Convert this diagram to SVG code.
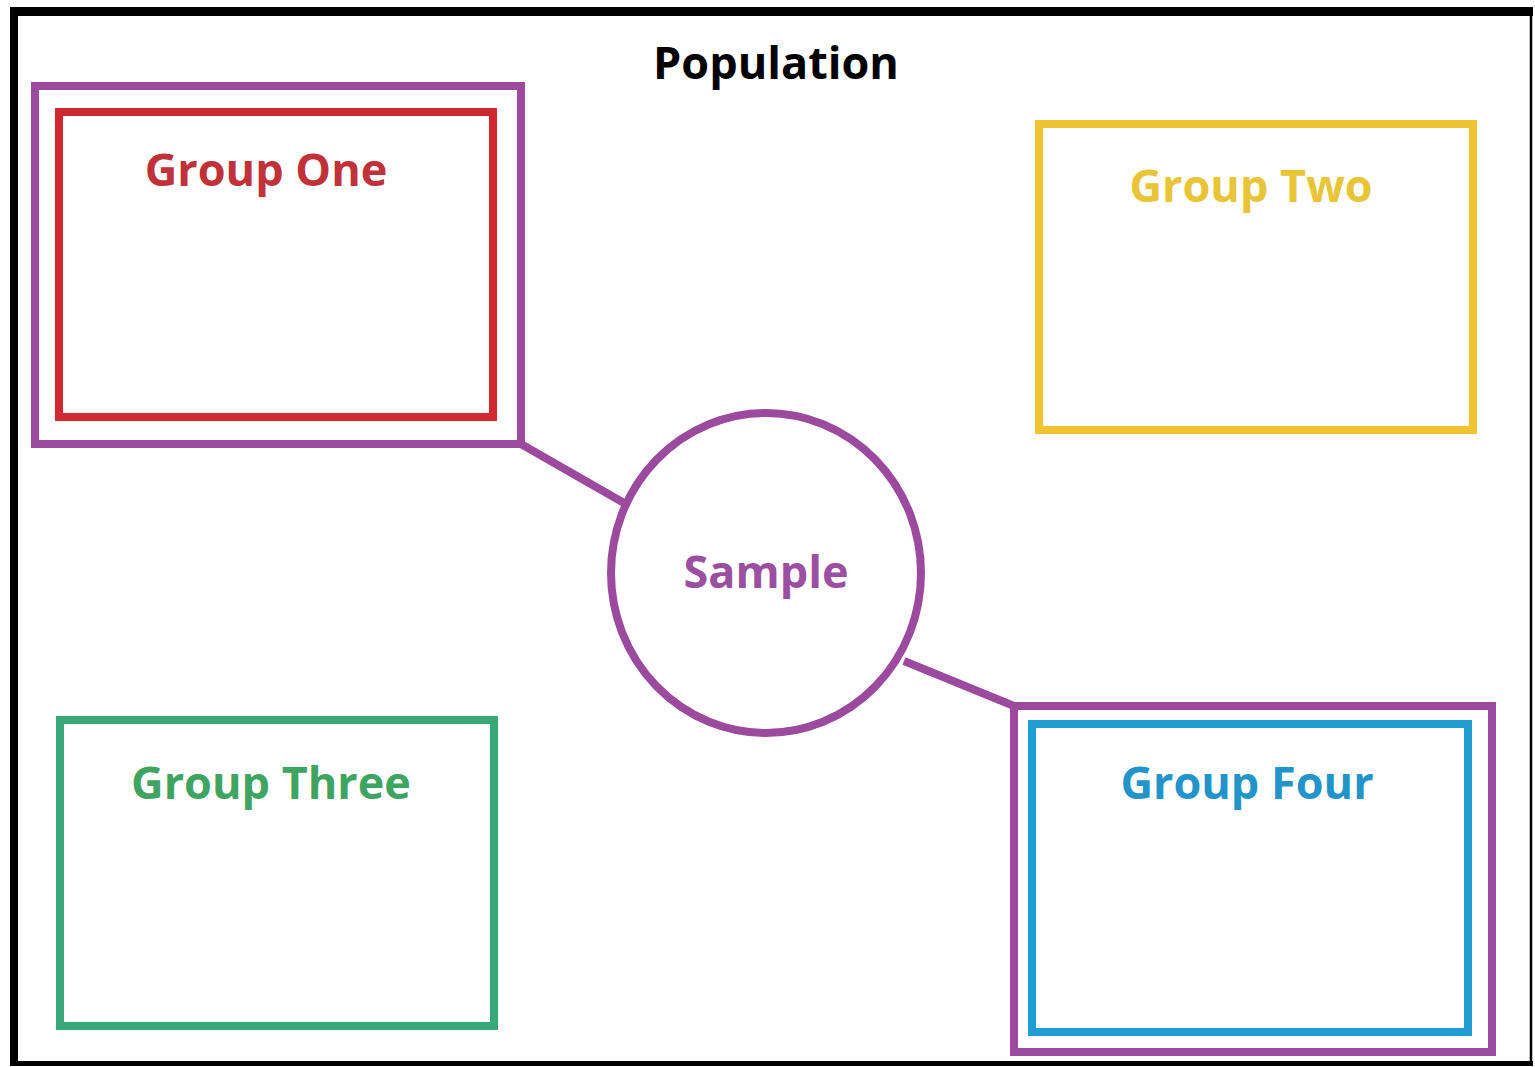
<svg xmlns="http://www.w3.org/2000/svg" width="1535" height="1067" viewBox="0 0 1535 1067">
<style>
.lbl{font-family:"Open Sans","Liberation Sans",sans-serif;font-weight:bold;font-size:45px;text-anchor:middle}
.box{fill:none;stroke-width:8}
.sel{fill:none;stroke:#9b4a9e;stroke-width:8}
</style>
<rect x="0" y="0" width="1535" height="1067" fill="#ffffff"/>
<g id="frame" stroke="#000000" fill="none">
<line x1="10" y1="11.5" x2="1533" y2="11.5" stroke-width="9"/>
<line x1="14" y1="7" x2="14" y2="1066" stroke-width="8"/>
<line x1="1531" y1="7" x2="1531" y2="1066" stroke-width="2.5"/>
<line x1="10" y1="1063.5" x2="1533" y2="1063.5" stroke-width="5"/>
</g>
<g id="population"><text class="lbl" x="776" y="79" fill="#000000">Population</text></g>
<g id="connectors" stroke="#9b4a9e" stroke-width="8" fill="none">
<line x1="521" y1="444" x2="624" y2="503"/>
<line x1="904" y1="661" x2="1014" y2="706"/>
</g>
<g id="group-one">
<rect class="sel" x="35" y="86" width="486" height="358"/>
<rect class="box" stroke="#d0282f" x="59" y="112" width="434" height="305"/>
<text class="lbl" x="266" y="186" fill="#c0313a">Group One</text>
</g>
<g id="group-two">
<rect class="box" stroke="#f0c430" x="1039" y="124" width="434" height="306"/>
<text class="lbl" x="1251" y="202" fill="#e8c437">Group Two</text>
</g>
<g id="group-three">
<rect class="box" stroke="#3aa777" x="60" y="720" width="434" height="306"/>
<text class="lbl" x="271" y="799" fill="#3fa461">Group Three</text>
</g>
<g id="group-four">
<rect class="sel" x="1014" y="706" width="478" height="346"/>
<rect class="box" stroke="#1f9ed3" x="1032" y="724" width="436" height="308"/>
<text class="lbl" x="1247" y="799" fill="#2394c9">Group Four</text>
</g>
<g id="sample">
<ellipse class="sel" cx="766" cy="573" rx="155" ry="160" fill="#ffffff"/>
<text class="lbl" x="766" y="588" fill="#9b4fa0">Sample</text>
</g>
</svg>
